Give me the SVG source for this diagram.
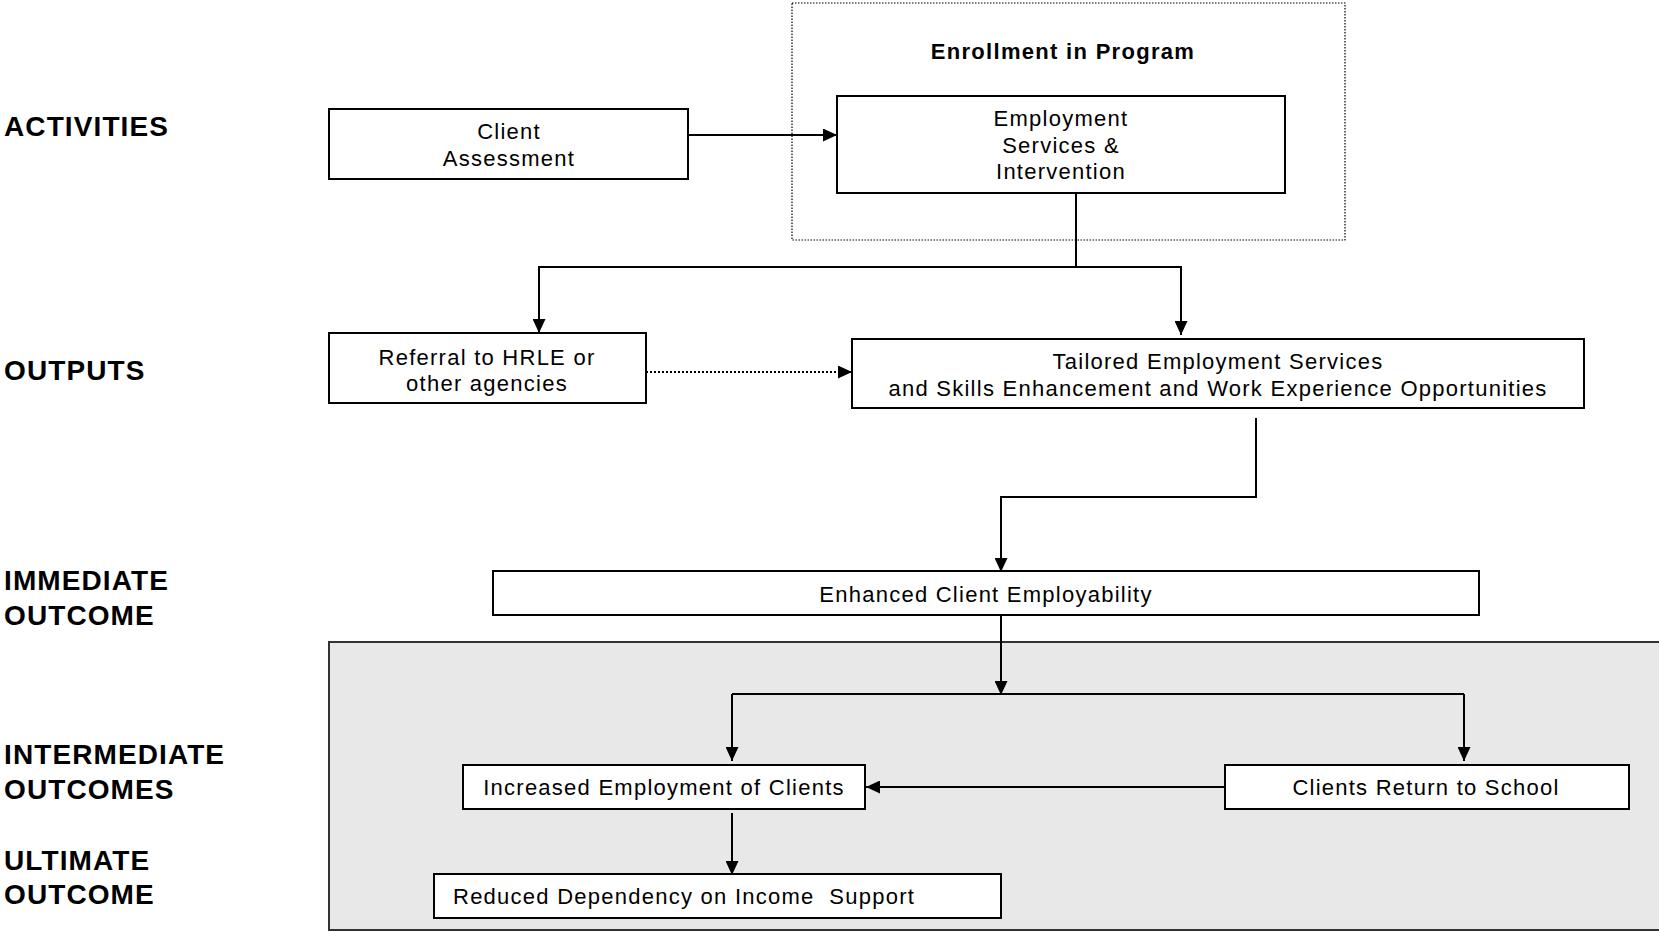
<svg xmlns="http://www.w3.org/2000/svg" width="1659" height="932" viewBox="0 0 1659 932">
<style>
.box{fill:#fff;stroke:#000;stroke-width:2}
.t{font-family:"Liberation Sans",Arial,sans-serif;font-size:22px;letter-spacing:1.25px;fill:#000;text-anchor:middle}
.lbl{font-family:"Liberation Sans",Arial,sans-serif;font-size:28px;font-weight:bold;letter-spacing:1.1px;fill:#000}
.title{font-family:"Liberation Sans",Arial,sans-serif;font-size:22px;font-weight:bold;letter-spacing:1.3px;fill:#000;text-anchor:middle}
.c{fill:none;stroke:#000;stroke-width:2}
</style>
<defs>
<marker id="ah" markerUnits="userSpaceOnUse" markerWidth="15" markerHeight="13" refX="14" refY="6.5" orient="auto">
<path d="M0,0 L14,6.5 L0,13 z" fill="#000"/>
</marker>
</defs>
<rect id="outcome-area" x="329" y="642" width="1340" height="288" fill="#e8e8e8" stroke="#333" stroke-width="2"/>
<g id="labels">
<text class="lbl" x="4" y="136">ACTIVITIES</text>
<text class="lbl" x="4" y="380">OUTPUTS</text>
<text class="lbl" x="4" y="590">IMMEDIATE</text>
<text class="lbl" x="4" y="625">OUTCOME</text>
<text class="lbl" x="4" y="764">INTERMEDIATE</text>
<text class="lbl" x="4" y="799">OUTCOMES</text>
<text class="lbl" x="4" y="870">ULTIMATE</text>
<text class="lbl" x="4" y="904">OUTCOME</text>
</g>
<g id="enrollment">
<rect x="792" y="3" width="553" height="237" fill="none" stroke="#000" stroke-width="1.2" stroke-dasharray="1.5 1.5"/>
<text class="title" x="1063" y="59">Enrollment in Program</text>
</g>
<g id="connectors">
<line class="c" x1="688" y1="135" x2="837" y2="135" marker-end="url(#ah)"/>
<path class="c" d="M1076 193 V267 H539 V333" marker-end="url(#ah)"/>
<path class="c" d="M1076 267 H1181 V335" marker-end="url(#ah)"/>
<line class="c" x1="646" y1="372" x2="852" y2="372" stroke-dasharray="2 2" marker-end="url(#ah)"/>
<path class="c" d="M1256 418 V497 H1001 V572" marker-end="url(#ah)"/>
<line class="c" x1="1001" y1="615" x2="1001" y2="695" marker-end="url(#ah)"/>
<path class="c" d="M732 694 H1464"/>
<line class="c" x1="732" y1="694" x2="732" y2="761" marker-end="url(#ah)"/>
<line class="c" x1="1464" y1="694" x2="1464" y2="761" marker-end="url(#ah)"/>
<line class="c" x1="1225" y1="787" x2="866" y2="787" marker-end="url(#ah)"/>
<line class="c" x1="732" y1="813" x2="732" y2="875" marker-end="url(#ah)"/>
</g>
<g id="client-assessment">
<rect class="box" x="329" y="109" width="359" height="70"/>
<text class="t" x="509" y="139">Client</text>
<text class="t" x="509" y="166">Assessment</text>
</g>
<g id="employment-services">
<rect class="box" x="837" y="96" width="448" height="97"/>
<text class="t" x="1061" y="126">Employment</text>
<text class="t" x="1061" y="153">Services &amp;</text>
<text class="t" x="1061" y="179">Intervention</text>
</g>
<g id="referral">
<rect class="box" x="329" y="333" width="317" height="70"/>
<text class="t" x="487" y="365">Referral to HRLE or</text>
<text class="t" x="487" y="391">other agencies</text>
</g>
<g id="tailored">
<rect class="box" x="852" y="339" width="732" height="69"/>
<text class="t" x="1218" y="369">Tailored Employment Services</text>
<text class="t" x="1218" y="396">and Skills Enhancement and Work Experience Opportunities</text>
</g>
<g id="enhanced">
<rect class="box" x="493" y="571" width="986" height="44"/>
<text class="t" x="986" y="602">Enhanced Client Employability</text>
</g>
<g id="increased-employment">
<rect class="box" x="463" y="765" width="402" height="44"/>
<text class="t" x="664" y="795">Increased Employment of Clients</text>
</g>
<g id="return-to-school">
<rect class="box" x="1225" y="765" width="404" height="44"/>
<text class="t" x="1426" y="795">Clients Return to School</text>
</g>
<g id="reduced-dependency">
<rect class="box" x="434" y="874" width="567" height="44"/>
<text class="t" x="453" y="904" style="text-anchor:start;white-space:pre" xml:space="preserve">Reduced Dependency on Income  Support</text>
</g>
</svg>
